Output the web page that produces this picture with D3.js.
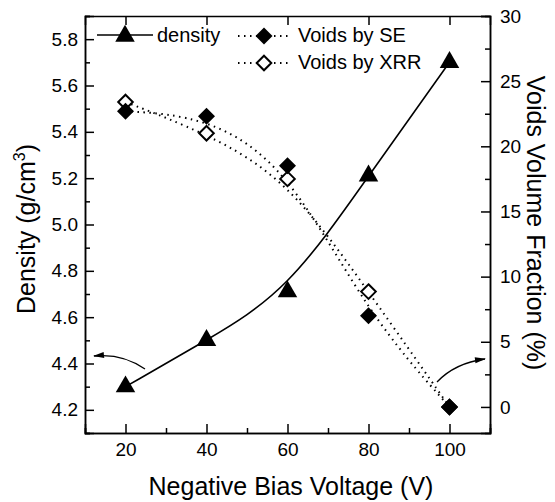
<!DOCTYPE html>
<html lang="en">
<head>
<meta charset="UTF-8">
<title>Density and voids vs bias voltage</title>
<script src="https://d3js.org/d3.v7.min.js"></script>
<style>
    body { margin: 0; background: #fff; }
    svg { display: block; font-family: "Liberation Sans", Arial, sans-serif; }
    .axis text { font-size: 19px; fill: #000; }
    .axis path, .axis line { stroke: #000; stroke-width: 1.5px; }
    .title { font-size: 25px; fill: #000; }
    .legend text { font-size: 20px; fill: #000; }
</style>
</head>
<body>
<svg width="555" height="502"></svg>
<script>
    // data
    const voltage = [20, 40, 60, 80, 100];
    const density = [4.3, 4.5, 4.71, 5.21, 5.7];         // g/cm3, left axis
    const voidsSE = [22.7, 22.3, 18.5, 7.0, 0];          // %, right axis
    const voidsXRR = [23.4, 21.0, 17.5, 8.85, 0];        // %, right axis
    const xTicks = [20, 40, 60, 80, 100];
    const yLeftTicks = [4.2, 4.4, 4.6, 4.8, 5.0, 5.2, 5.4, 5.6, 5.8];
    const yRightTicks = [0, 5, 10, 15, 20, 25, 30];

    const pLeft = 85, pTop = 16, pRight = 490, pBottom = 433;
    const svg = d3.select("svg");

    const x = d3.scaleLinear().domain([10, 110]).range([pLeft, pRight]);
    const yL = d3.scaleLinear().domain([4.1, 5.9]).range([pBottom, pTop]);
    const yR = d3.scaleLinear().domain([-2, 30]).range([pBottom, pTop]);

    // minor ticks
    const xMinor = d3.range(10, 111, 10).filter(v => !xTicks.includes(v));
    const yLMinor = d3.range(41, 60, 1).map(v => v / 10).filter(v => !yLeftTicks.some(t => Math.abs(t - v) < 1e-6));
    const yRMinor = d3.range(-2.5, 30.1, 2.5).filter(v => v >= -2 && v % 5 !== 0);

    function drawAxis(axis, tx, ty) {
        return svg.append("g").attr("class", "axis")
            .attr("transform", `translate(${tx},${ty})`).call(axis);
    }

    // bottom
    drawAxis(d3.axisBottom(x).tickValues(xMinor).tickSize(-5).tickFormat(""), 0, pBottom);
    drawAxis(d3.axisBottom(x).tickValues(xTicks).tickSize(-9).tickPadding(10).tickFormat(d3.format("d")), 0, pBottom);
    // top
    drawAxis(d3.axisTop(x).tickValues(xTicks).tickSize(-9).tickFormat(""), 0, pTop);
    // left
    drawAxis(d3.axisLeft(yL).tickValues(yLMinor).tickSize(-5).tickFormat(""), pLeft, 0);
    drawAxis(d3.axisLeft(yL).tickValues(yLeftTicks).tickSize(-9).tickPadding(7).tickFormat(d3.format(".1f")), pLeft, 0);
    // right
    drawAxis(d3.axisRight(yR).tickValues(yRMinor).tickSize(-5).tickFormat(""), pRight, 0);
    drawAxis(d3.axisRight(yR).tickValues(yRightTicks).tickSize(-9).tickPadding(10).tickFormat(d3.format("d")), pRight, 0);

    svg.selectAll(".axis .domain").attr("stroke-width", 2);

    // smoothed curves (B-spline through the points)
    const lineD = d3.line().x((d, i) => x(voltage[i])).y(d => yL(d)).curve(d3.curveBasis);
    const lineR = d3.line().x((d, i) => x(voltage[i])).y(d => yR(d)).curve(d3.curveBasis);

    svg.append("path").attr("d", lineD(density))
        .attr("fill", "none").attr("stroke", "#000").attr("stroke-width", 1.6);
    svg.append("path").attr("d", lineR(voidsSE))
        .attr("fill", "none").attr("stroke", "#000").attr("stroke-width", 2)
        .attr("stroke-dasharray", "1.5,4.5");
    svg.append("path").attr("d", lineR(voidsXRR))
        .attr("fill", "none").attr("stroke", "#000").attr("stroke-width", 2)
        .attr("stroke-dasharray", "1.5,4.5");

    const tri = d3.symbol().type(d3.symbolTriangle).size(165);
    const diamondPath = "M0,-8.5L8.5,0L0,8.5L-8.5,0Z";
    const diamondOpen = "M0,-7.3L7.3,0L0,7.3L-7.3,0Z";

    svg.append("g").selectAll("path").data(voidsXRR).join("path")
        .attr("d", diamondOpen)
        .attr("transform", (d, i) => `translate(${x(voltage[i])},${yR(d)})`)
        .attr("fill", "#fff").attr("stroke", "#000").attr("stroke-width", 2);
    svg.append("g").selectAll("path").data(voidsSE).join("path")
        .attr("d", diamondPath)
        .attr("transform", (d, i) => `translate(${x(voltage[i])},${yR(d)})`)
        .attr("fill", "#000");
    svg.append("g").selectAll("path").data(density).join("path")
        .attr("d", tri)
        .attr("transform", (d, i) => `translate(${x(voltage[i])},${yL(d)})`)
        .attr("fill", "#000");

    // legend
    const lg = svg.append("g").attr("class", "legend");
    lg.append("line").attr("x1", 97).attr("x2", 153).attr("y1", 35).attr("y2", 35)
        .attr("stroke", "#000").attr("stroke-width", 1.6);
    lg.append("path").attr("d", tri).attr("transform", "translate(125,36)").attr("fill", "#000");
    lg.append("text").attr("x", 157).attr("y", 42).text("density");

    lg.append("line").attr("x1", 238).attr("x2", 292).attr("y1", 36).attr("y2", 36)
        .attr("stroke", "#000").attr("stroke-width", 2).attr("stroke-dasharray", "1.5,4.5");
    lg.append("path").attr("d", diamondPath).attr("transform", "translate(264,36)").attr("fill", "#000");
    lg.append("text").attr("x", 298).attr("y", 42).text("Voids by SE");

    lg.append("line").attr("x1", 238).attr("x2", 292).attr("y1", 63).attr("y2", 63)
        .attr("stroke", "#000").attr("stroke-width", 2).attr("stroke-dasharray", "1.5,4.5");
    lg.append("path").attr("d", diamondOpen).attr("transform", "translate(264,63)")
        .attr("fill", "#fff").attr("stroke", "#000").attr("stroke-width", 2);
    lg.append("text").attr("x", 298).attr("y", 69).text("Voids by XRR");

    // arrows pointing to the axes
    function arrow(x0, y0, cx, cy, x1, y1) {
        svg.append("path").attr("d", `M${x0},${y0}Q${cx},${cy} ${x1},${y1}`)
            .attr("fill", "none").attr("stroke", "#000").attr("stroke-width", 1.3);
        const ang = Math.atan2(y1 - cy, x1 - cx) * 180 / Math.PI;
        svg.append("path").attr("d", "M1,0L-10,-3L-10,3Z")
            .attr("transform", `translate(${x1},${y1}) rotate(${ang})`).attr("fill", "#000");
    }
    arrow(145, 369, 122, 353, 94, 356);
    arrow(437, 382, 455, 363, 485, 359);

    // axis titles
    svg.append("text").attr("class", "title").attr("text-anchor", "middle")
        .attr("x", 291).attr("y", 495).text("Negative Bias Voltage (V)");
    const tl = svg.append("text").attr("class", "title").attr("text-anchor", "middle")
        .attr("transform", "translate(35,229) rotate(-90)");
    tl.append("tspan").text("Density (g/cm");
    tl.append("tspan").attr("dy", -10).attr("font-size", "16px").text("3");
    tl.append("tspan").attr("dy", 10).text(")");
    svg.append("text").attr("class", "title").attr("text-anchor", "middle")
        .attr("transform", "translate(527,223) rotate(90)")
        .text("Voids Volume Fraction (%)");
</script>
</body>
</html>
